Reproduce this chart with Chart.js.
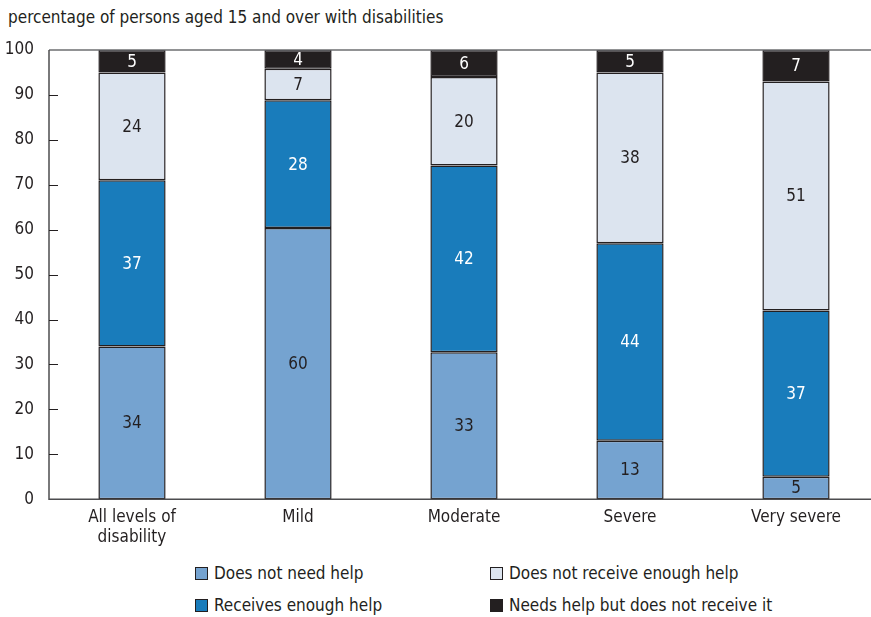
<!DOCTYPE html>
<html>
<head>
<meta charset="utf-8">
<script src="https://cdn.jsdelivr.net/npm/chart.js@4.4.1/dist/chart.umd.min.js"></script>
<style>
  html, body { margin: 0; padding: 0; background: #fff; overflow: hidden; }
  body { width: 871px; height: 617px; position: relative;
         font-family: 'Liberation Sans Narrow', 'DejaVu Sans Condensed', sans-serif; color: #231f20; }
  #title { position: absolute; left: 8px; top: 7px; font-size: 17px; }
  #wrap { position: absolute; left: 0; top: 0; width: 879px; height: 556px; }
  #legend { position: absolute; left: 195px; top: 562px; display: grid;
            grid-template-columns: 295px 300px; grid-auto-flow: column; grid-template-rows: 32px 32px; font-size: 17px; }
  .item { display: flex; align-items: center; height: 22px; }
  .box { width: 13px; height: 13px; border: 1px solid #231f20; margin-right: 6px; box-sizing: border-box; }
</style>
</head>
<body>
<div id="title">percentage of persons aged 15 and over with disabilities</div>
<div id="wrap"><canvas id="chart"></canvas></div>
<div id="legend"></div>
<script>
// categories and series (segment sizes, labels round them)
var categories = [['All levels of', 'disability'], 'Mild', 'Moderate', 'Severe', 'Very severe'];
var seriesNames = ['Does not need help', 'Receives enough help', 'Does not receive enough help', 'Needs help but does not receive it'];
var notNeedHelp = [34, 60.4, 32.7, 13, 5];
var receivesEnough = [37, 28.4, 41.6, 44, 37];
var notEnough = [24, 7, 19.7, 38, 51];
var needsNoHelp = [5, 4.2, 6, 5, 7];
var yTicks = [0, 10, 20, 30, 40, 50, 60, 70, 80, 90, 100];

var COLORS = ['#75a3d0', '#197cbb', '#dce4ef', '#231f20'];
var LABEL_COLORS = ['#231f20', '#ffffff', '#231f20', '#ffffff'];
var FONT = "'Liberation Sans Narrow', 'DejaVu Sans Condensed', sans-serif";
var INK = '#231f20';

var seriesData = [notNeedHelp, receivesEnough, notEnough, needsNoHelp];

// html legend, column-major like the original
var legend = document.getElementById('legend');
seriesNames.forEach(function(name, i) {
  var el = document.createElement('div');
  el.className = 'item';
  el.innerHTML = '<span class="box" style="background:' + COLORS[i] + '"></span>' + name;
  legend.appendChild(el);
});

var datasets = seriesData.map(function(d, i) {
  return {
    label: seriesNames[i],
    data: d,
    backgroundColor: COLORS[i],
    borderColor: INK,
    borderWidth: 1.5,
    borderSkipped: false,
    barPercentage: 0.405,
    categoryPercentage: 1
  };
});

var frame = {
  id: 'frame',
  afterDraw: function(chart) {
    var ctx = chart.ctx, a = chart.chartArea, y = chart.scales.y;
    ctx.save();
    // top grey rule
    ctx.strokeStyle = '#6d6e71';
    ctx.lineWidth = 1.5;
    ctx.beginPath(); ctx.moveTo(a.left, a.top); ctx.lineTo(a.right, a.top); ctx.stroke();
    // left and bottom axes
    ctx.strokeStyle = '#4d4d4f';
    ctx.beginPath(); ctx.moveTo(a.left, a.top); ctx.lineTo(a.left, a.bottom); ctx.lineTo(a.right, a.bottom); ctx.stroke();
    // inward tick marks
    ctx.strokeStyle = INK;
    ctx.lineWidth = 1;
    for (var i = 1; i < yTicks.length - 1; i++) {
      var py = Math.round(y.getPixelForValue(yTicks[i])) + 0.5;
      ctx.beginPath(); ctx.moveTo(a.left, py); ctx.lineTo(a.left + 9, py); ctx.stroke();
    }
    // value labels
    ctx.font = '17px ' + FONT;
    ctx.textAlign = 'center';
    ctx.textBaseline = 'middle';
    chart.data.datasets.forEach(function(ds, di) {
      var meta = chart.getDatasetMeta(di);
      ctx.fillStyle = LABEL_COLORS[di];
      meta.data.forEach(function(bar, j) {
        ctx.fillText(Math.round(ds.data[j]), bar.x, (bar.y + bar.base) / 2 + 1);
      });
    });
    ctx.restore();
  }
};

new Chart(document.getElementById('chart'), {
  type: 'bar',
  data: { labels: categories, datasets: datasets },
  options: {
    responsive: true,
    maintainAspectRatio: false,
    animation: false,
    layout: { padding: { top: 50, left: 0, right: 0, bottom: 0 } },
    scales: {
      x: {
        stacked: true,
        grid: { display: false, drawTicks: false },
        border: { display: false },
        ticks: { color: INK, font: { family: FONT, size: 17 }, padding: 8, maxRotation: 0 }
      },
      y: {
        stacked: true,
        min: 0, max: 100,
        afterFit: function(scale) { scale.width = 49; },
        afterBuildTicks: function(scale) { scale.ticks = yTicks.map(function(v) { return { value: v }; }); },
        grid: { display: false, drawTicks: false },
        border: { display: false },
        ticks: { color: INK, font: { family: FONT, size: 17 }, padding: 15 }
      }
    },
    plugins: { legend: { display: false }, tooltip: { enabled: false } }
  },
  plugins: [frame]
});
</script>
</body>
</html>
